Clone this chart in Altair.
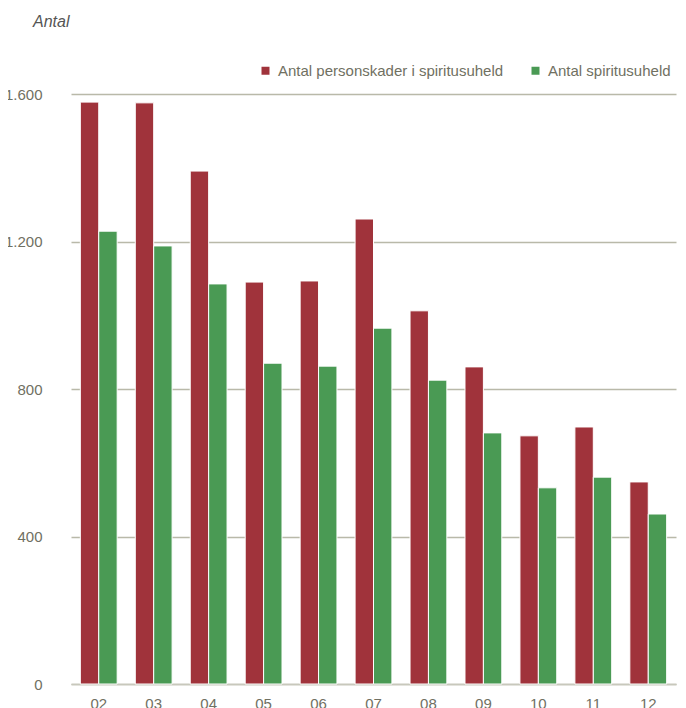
import altair as alt
import pandas as pd

years = ["02", "03", "04", "05", "06", "07", "08", "09", "10", "11", "12"]
personskader = [1578, 1576, 1391, 1090, 1093, 1261, 1012, 860, 673, 697, 548]
uheld = [1228, 1188, 1085, 870, 862, 965, 824, 681, 532, 561, 461]
series = ["Antal personskader i spiritusuheld", "Antal spiritusuheld"]
colors = ["#A0333B", "#4A9A54"]

rows = []
for y, a, b in zip(years, personskader, uheld):
    rows.append({"year": y, "serie": series[0], "value": a})
    rows.append({"year": y, "serie": series[1], "value": b})
df = pd.DataFrame(rows)

FONT = "Liberation Sans Narrow, Arial Narrow, Liberation Sans"
LBL = "#707062"

bars = alt.Chart(df).mark_bar(stroke="white", strokeWidth=1).encode(
    x=alt.X("year:N", sort=years, title=None,
            scale=alt.Scale(paddingInner=0.33, paddingOuter=0.17),
            axis=alt.Axis(labelAngle=0, ticks=False, domain=True, domainColor="#C8C8BC",
                          domainWidth=1.5, labelPadding=12, labelFontSize=15,
                          labelColor=LBL, labelFont=FONT)),
    xOffset=alt.XOffset("serie:N", sort=series),
    y=alt.Y("value:Q", title=None,
            scale=alt.Scale(domain=[0, 1600], nice=False),
            axis=alt.Axis(values=[0, 400, 800, 1200, 1600], ticks=False, domain=False,
                          grid=True, gridColor="#B9B9A9", gridWidth=1.3,
                          labelExpr="replace(format(datum.value, ','), ',', '.')",
                          labelPadding=29, labelFontSize=15, labelColor=LBL, labelFont=FONT)),
    color=alt.Color("serie:N", sort=series,
                    scale=alt.Scale(domain=series, range=colors),
                    legend=alt.Legend(title=None, orient="none", direction="horizontal",
                                      legendX=187, legendY=-31, symbolType="square",
                                      symbolSize=64, symbolStrokeWidth=0,
                                      labelFontSize=15, labelColor=LBL, labelFont=FONT,
                                      labelLimit=0, labelOffset=5, columnPadding=24)),
)

title_df = pd.DataFrame({"t": ["Antal"]})
title = alt.Chart(title_df).mark_text(
    align="left", baseline="alphabetic", fontStyle="italic", fontSize=16,
    font="Liberation Sans", color="#555555"
).encode(text="t:N", x=alt.value(-38), y=alt.value(-67))

chart = alt.layer(bars, title).properties(
    width=605, height=590,
    padding={"left": 63, "top": 86, "right": 2, "bottom": 30},
    autosize=alt.AutoSizeParams(type="none"),
).configure_view(stroke=None)

chart.save("out.html", embed_options={"renderer": "svg", "actions": False})
